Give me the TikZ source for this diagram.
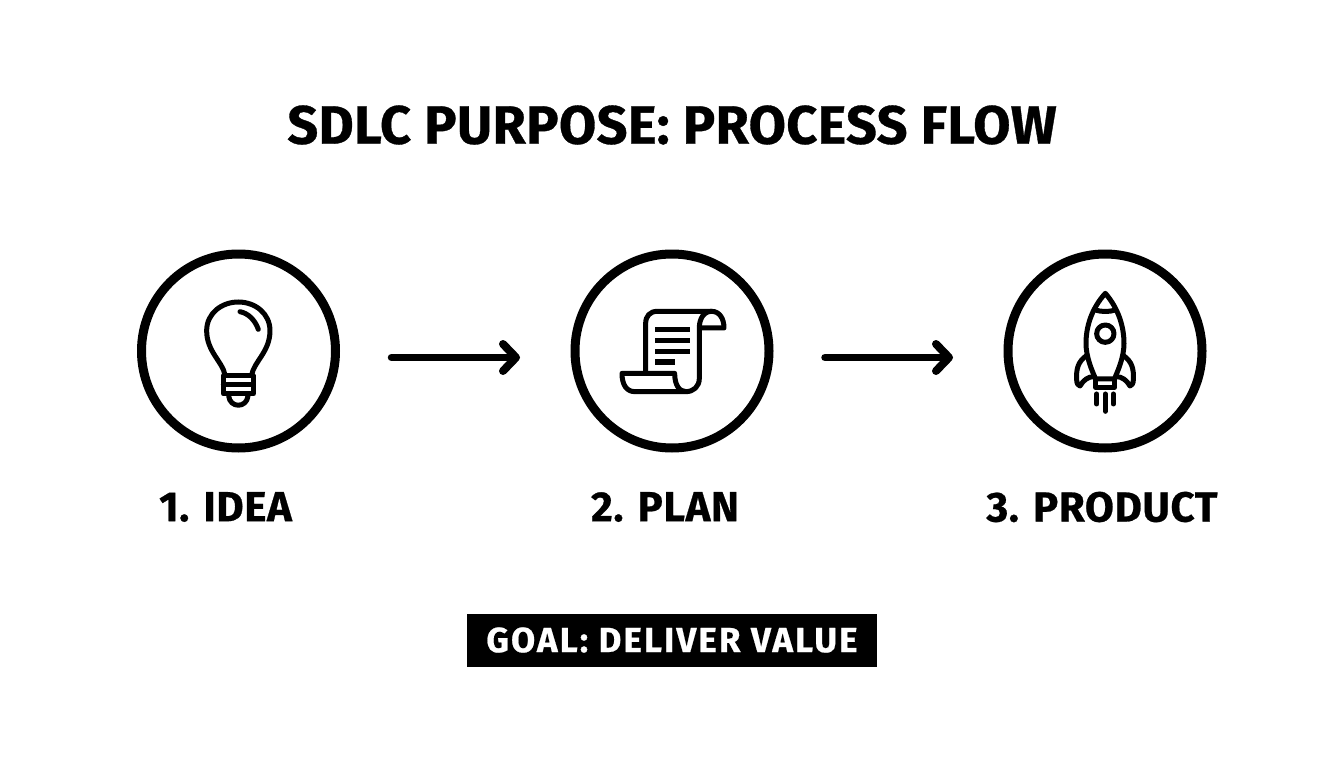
\documentclass[tikz,border=0pt]{standalone}
\usepackage{fontspec}
\setmainfont[BoldFont={Fira Sans Bold},BoldFeatures={FakeBold=0.6}]{Fira Sans}
\newfontfamily\ttlfont[BoldFont={Fira Sans Bold},BoldFeatures={FakeBold=0.6,LetterSpace=0.7}]{Fira Sans}
\newfontfamily\lblfont[BoldFont={Fira Sans Bold},BoldFeatures={FakeBold=0.6,LetterSpace=1.5}]{Fira Sans}
\newfontfamily\goalfont[BoldFont={Fira Sans Bold},BoldFeatures={FakeBold=0.6,LetterSpace=6}]{Fira Sans}
\usetikzlibrary{arrows.meta}
\tikzset{
  stage/.style={circle,draw=black,line width=9pt,minimum size=194pt,inner sep=0pt,outer sep=0pt},
  flow/.style={line width=7.5pt,line cap=round,-{Straight Barb[length=13pt,width=27pt,line width=8pt,round]}},
  ttl/.style={font=\ttlfont\bfseries\fontsize{54}{54}\selectfont,inner sep=0pt},
  lbl/.style={font=\lblfont\bfseries\fontsize{42}{42}\selectfont,inner sep=0pt},
  goal/.style={fill=black,text=white,font=\goalfont\bfseries\fontsize{35}{35}\selectfont,minimum width=410pt,minimum height=53pt,inner sep=0pt},
  ico/.style={line width=5pt,line cap=round,line join=round},
  icozoom/.style={x=0.3333pt,y=-0.3333pt}
}
\begin{document}
\begin{tikzpicture}[x=1pt,y=-1pt]
\useasboundingbox (0,0) rectangle (1344,768);
\fill[white] (0,0) rectangle (1344,768);
\node[ttl] (title) at (672,125) {SDLC PURPOSE: PROCESS FLOW};
\node[stage] (c1) at (238.5,351) {};
\node[stage] (c2) at (672,351) {};
\node[stage] (c3) at (1105,351) {};
\draw[flow] ([shift={(56,6.5)}]c1.east) -- ([shift={(-55,6.5)}]c2.west);
\draw[flow] ([shift={(56,6.5)}]c2.east) -- ([shift={(-55,6.5)}]c3.west);
\node[lbl] (l1) at (225.5,507) {1. IDEA};
\node[lbl] (l2) at (665,507) {2. PLAN};
\node[lbl] (l3) at (1102,507) {3. PRODUCT};
\node[goal] (g) at (672,640) {GOAL: DELIVER VALUE};
% bulb
\begin{scope}[shift={(130,240)},icozoom,ico]
\draw (285,405) .. controls (278,365) and (230,335) .. (230,272)
  .. controls (230,220) and (275,186) .. (325,186)
  .. controls (375,186) and (420,220) .. (420,272)
  .. controls (420,335) and (372,365) .. (365,405);
\draw (330,215) .. controls (355,220) and (375,240) .. (385,268);
\draw[line join=round] (280,408) -- (370,408) -- (370,462) -- (280,462) -- cycle;
\draw (280,435) -- (370,435);
\draw (296,468) .. controls (300,505) and (350,505) .. (354,468);
\end{scope}
% scroll
\begin{scope}[shift={(600,290)},icozoom,ico]
\draw (137,245) -- (137,100) .. controls (137,78) and (150,64) .. (172,64) -- (335,64)
  .. controls (358,64) and (372,85) .. (372,114) -- (300,114);
\draw (335,64) .. controls (312,64) and (298,85) .. (298,114) -- (298,265)
  .. controls (298,290) and (280,305) .. (258,305) .. controls (238,305) and (224,285) .. (224,250) -- (66,250)
  .. controls (66,285) and (80,305) .. (105,305) -- (258,305);
\draw[line width=5.5pt,line cap=butt] (165,119) -- (270,119) (165,152) -- (270,152) (165,184) -- (270,184) (165,216) -- (225,216);
\end{scope}
% rocket
\begin{scope}[shift={(1050,280)},icozoom,ico]
\draw (166,40) .. controls (125,85) and (108,140) .. (108,190) .. controls (108,230) and (125,270) .. (137,297)
  -- (193,297) .. controls (205,270) and (222,230) .. (222,190) .. controls (222,140) and (205,85) .. (166,40) -- cycle;
\draw (136,90) .. controls (155,96) and (177,96) .. (196,90);
\draw (166,161) circle[radius=26];
\draw (137,297) -- (137,322) -- (193,322) -- (193,297);
\draw (108,228) .. controls (85,245) and (78,265) .. (80,300) .. controls (80,310) and (85,318) .. (90,318) .. controls (100,300) and (115,290) .. (130,290);
\draw (222,228) .. controls (245,245) and (252,265) .. (250,300) .. controls (250,310) and (245,318) .. (240,318) .. controls (230,300) and (215,290) .. (200,290);
\draw (140,342) -- (140,372) (166,342) -- (166,394) (190,342) -- (190,372);
\end{scope}
\end{tikzpicture}
\end{document}
